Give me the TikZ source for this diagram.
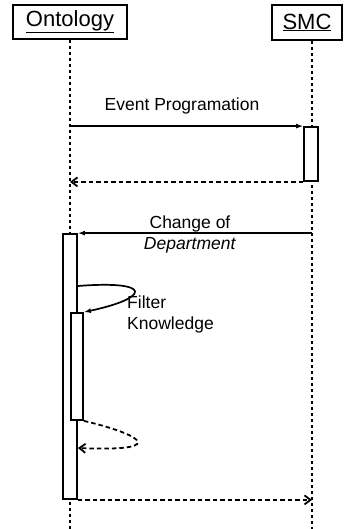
\documentclass[tikz,border=0pt]{standalone}
\usepackage{fontspec}
\setmainfont{Liberation Sans}
\usetikzlibrary{arrows.meta}

\begin{document}
\begin{tikzpicture}[x=1pt,y=-1pt]
	\tikzstyle{every node}=[font=\fontsize{17.5}{21}\selectfont, inner sep=0pt]
	\tikzstyle{actor}=[draw, line width=1.8, fill=white, font=\fontsize{22}{24}\selectfont]
	\tikzstyle{lifeline}=[line width=1.8, dash pattern=on 3.5 off 2.5]
	\tikzstyle{activation}=[draw, line width=1.8, fill=white, minimum width=14, inner sep=0pt]
	\tikzstyle{msg}=[line width=1.7, -{Latex[length=7,width=5]}]
	\tikzstyle{ret}=[line width=1.8, dash pattern=on 4.5 off 3, -{Straight Barb[length=6,width=9]}]

	\useasboundingbox (0,0) rectangle (343,529);

	%% objects
	\node [actor, minimum width=114, minimum height=34]  (onto) at (70,22)  {\underline{Ontology}};
	\node [actor, minimum width=70, minimum height=35]  (smc) at (307,22.5)  {\underline{SMC}};
	\coordinate (ontoEnd) at (70,529);
	\coordinate (smcEnd) at (312,529);

	%% lifelines
	\draw [lifeline]  (onto.south) -- (ontoEnd);
	\draw [lifeline]  (smc.south -| smcEnd) -- (smcEnd);

	%% activations
	\node [activation, minimum height=54]  (smcAct) at (311,154)  {};
	\node [activation, minimum height=265]  (ontoAct) at (70,366.5)  {};
	\node [activation, minimum width=12, minimum height=107]  (filterAct) at (77,366.5)  {};

	%% messages
	\draw [msg]  (onto.south |- smcAct.north west) -- (smcAct.north west);
	\node  (evLbl) at (182,106)  {Event Programation};
	\draw [ret]  (smcAct.south west) -- (onto.south |- smcAct.south west);
	\draw [msg]  (smcEnd |- ontoAct.north east) -- (ontoAct.north east);
	\node [align=center]  (chLbl) at (190,234.5)  {Change of\\\textit{Department}};
	\draw [msg]  (ontoAct.east |- 0,286) .. controls (154,280) and (150,298) .. (filterAct.north east);
	\node [align=left, anchor=west]  (fkLbl) at (127,314)  {Filter\\Knowledge};
	\draw [ret]  (filterAct.south east) .. controls (132,432) and (178,452) .. (ontoAct.east |- 0,448);
	\draw [ret]  (ontoAct.south east) -- (smcEnd |- ontoAct.south east);

\end{tikzpicture}
\end{document}
